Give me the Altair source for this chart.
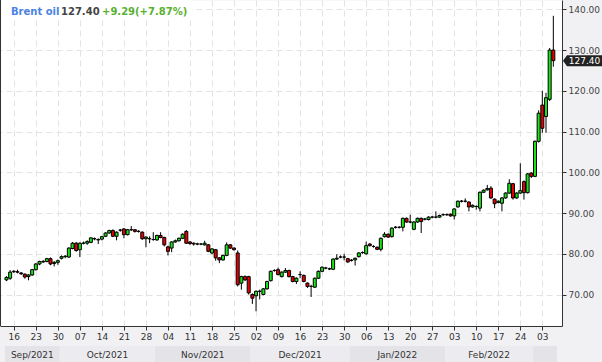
import altair as alt
import pandas as pd

# ---- data (daily bars, 6 bars per week, index 0 = 14 Sep 2021) ----
opens = [
    73.6, 74.0, 75.6, 75.6, 75.3, 75.0, 74.4, 74.8, 76.1, 77.5,
    78.1, 78.1, 78.8, 77.6, 77.9, 78.9, 79.3, 79.2, 81.3, 82.6,
    81.0, 82.6, 82.6, 82.8, 83.7, 83.5, 83.6, 84.3, 85.1, 85.7,
    84.3, 85.8, 86.1, 84.7, 85.9, 85.9, 85.5, 85.3, 83.7, 83.7,
    83.5, 83.4, 84.5, 84.0, 81.7, 81.4, 82.9, 83.2, 83.8, 85.5,
    82.9, 82.6, 82.4, 82.4, 82.2, 82.2, 80.2, 81.0, 79.0, 78.5,
    79.6, 82.2, 81.4, 80.2, 72.8, 74.4, 74.4, 70.0, 69.7, 70.8,
    70.0, 71.4, 73.4, 75.9, 76.1, 74.4, 75.5, 75.9, 74.4, 73.2,
    74.9, 74.7, 72.8, 72.0, 71.8, 74.0, 75.7, 76.5, 76.3, 76.2,
    78.7, 79.2, 79.2, 78.8, 78.4, 78.5, 79.3, 80.3, 80.0, 82.4,
    81.8, 81.6, 81.1, 84.2, 84.8, 84.2, 86.5, 86.5, 86.5, 88.7,
    87.8, 86.0, 87.8, 88.7, 88.5, 88.4, 89.0, 89.0, 89.0, 89.6,
    89.6, 89.7, 89.3, 91.5, 92.9, 92.9, 92.7, 91.5, 91.6, 91.2,
    95.1, 95.7, 96.1, 93.4, 92.6, 92.4, 93.7, 94.9, 97.2, 93.7,
    94.9, 97.7, 95.0, 99.8, 99.0, 107.6, 116.5, 113.7, 117.9, 130.0,
]
closes = [
    74.2, 75.5, 75.7, 75.5, 75.1, 74.3, 74.8, 76.1, 77.5, 78.1,
    78.0, 78.8, 77.5, 77.9, 78.3, 79.3, 79.4, 81.4, 82.6, 80.8,
    82.6, 82.6, 83.0, 83.9, 83.7, 83.4, 84.2, 85.1, 85.7, 84.3,
    85.3, 85.8, 84.7, 85.9, 85.9, 85.5, 85.5, 83.7, 84.1, 83.7,
    83.5, 84.5, 84.0, 82.2, 80.6, 82.9, 83.2, 83.8, 84.8, 82.6,
    82.5, 82.4, 82.4, 82.4, 82.6, 80.6, 81.2, 79.0, 78.5, 79.6,
    82.2, 81.4, 81.0, 72.4, 74.4, 73.6, 70.4, 69.1, 70.8, 70.8,
    71.4, 73.2, 75.7, 75.9, 74.9, 75.5, 75.9, 74.4, 73.2, 74.0,
    74.9, 73.2, 72.0, 72.0, 74.0, 75.7, 76.7, 76.5, 76.3, 78.7,
    78.9, 79.2, 79.2, 78.0, 78.4, 78.9, 80.2, 80.3, 82.0, 82.0,
    81.8, 81.1, 83.8, 84.8, 84.1, 86.3, 86.5, 86.5, 88.7, 87.8,
    87.8, 87.8, 88.7, 87.9, 88.5, 89.0, 89.0, 89.0, 89.4, 89.6,
    89.6, 89.3, 91.0, 92.9, 92.9, 92.9, 91.5, 91.9, 91.6, 95.1,
    95.6, 96.0, 93.7, 92.3, 92.9, 93.7, 94.9, 97.3, 93.7, 94.9,
    95.5, 95.0, 99.6, 99.0, 107.6, 114.5, 110.8, 118.3, 130.0, 127.4,
]
highs = [
    74.5, 76.0, 76.0, 76.1, 75.5, 75.2, 75.0, 76.3, 77.7, 78.3,
    78.5, 79.0, 79.1, 78.2, 78.6, 79.6, 79.7, 81.6, 82.9, 82.9,
    82.8, 83.0, 83.3, 84.1, 84.0, 83.8, 84.4, 85.3, 85.9, 86.0,
    85.5, 86.1, 86.3, 86.1, 86.8, 86.1, 85.8, 85.5, 84.3, 84.3,
    85.3, 84.7, 85.3, 84.2, 82.0, 83.1, 83.5, 84.0, 85.0, 85.8,
    83.1, 82.8, 82.7, 82.6, 83.2, 82.4, 81.4, 81.2, 79.2, 79.8,
    82.8, 82.4, 81.6, 80.8, 74.6, 74.7, 74.6, 70.3, 71.0, 71.2,
    71.6, 73.4, 75.9, 76.2, 76.6, 75.7, 76.5, 76.1, 74.6, 74.2,
    75.7, 74.9, 73.0, 72.4, 74.2, 75.9, 76.9, 76.8, 76.6, 78.9,
    79.9, 79.6, 80.0, 79.0, 78.7, 79.1, 80.4, 80.6, 83.0, 82.6,
    82.1, 81.8, 84.0, 85.3, 85.0, 86.5, 86.8, 86.8, 88.9, 88.9,
    89.6, 88.0, 88.9, 88.9, 88.8, 89.2, 89.3, 90.4, 89.6, 89.9,
    89.9, 89.9, 91.2, 93.1, 93.2, 93.6, 92.9, 92.1, 91.9, 95.3,
    95.8, 96.9, 96.6, 93.6, 93.1, 93.9, 95.1, 98.3, 97.4, 95.1,
    102.2, 98.0, 99.8, 100.0, 107.8, 115.2, 120.0, 119.5, 130.5, 138.4,
]
lows = [
    73.3, 73.6, 75.3, 75.2, 74.8, 73.9, 73.5, 74.6, 75.9, 77.2,
    77.8, 77.9, 77.2, 76.9, 77.3, 78.6, 78.9, 79.0, 81.1, 80.5,
    79.2, 82.3, 82.2, 82.6, 83.3, 82.4, 83.3, 84.1, 84.9, 84.1,
    83.3, 85.4, 83.8, 84.5, 85.6, 85.2, 85.2, 83.4, 81.6, 82.6,
    83.2, 83.2, 83.8, 81.8, 79.6, 80.4, 82.7, 83.0, 83.6, 82.4,
    82.2, 82.0, 82.1, 82.1, 82.0, 80.4, 79.9, 78.3, 77.7, 78.3,
    79.4, 81.2, 80.8, 72.0, 71.2, 73.3, 70.0, 67.7, 65.9, 68.8,
    69.8, 71.2, 73.2, 75.6, 74.7, 74.2, 75.3, 74.2, 73.0, 72.6,
    74.0, 73.0, 71.6, 69.4, 71.6, 73.8, 75.5, 76.2, 76.0, 76.0,
    78.5, 78.9, 78.4, 77.8, 78.1, 77.1, 79.1, 80.0, 79.8, 81.8,
    81.5, 80.9, 80.6, 84.0, 83.9, 84.0, 86.2, 86.2, 85.5, 87.6,
    87.5, 85.8, 87.6, 85.1, 88.2, 88.2, 88.7, 88.7, 88.8, 89.3,
    89.3, 89.1, 88.4, 91.3, 92.6, 92.6, 90.4, 91.3, 90.8, 90.4,
    94.9, 95.5, 93.5, 91.2, 92.4, 90.4, 93.5, 94.7, 93.3, 93.5,
    94.7, 93.3, 94.8, 98.6, 98.8, 107.3, 109.7, 109.7, 117.5, 125.9,
]

tick_labels = ["16", "23", "30", "07", "14", "21", "28", "04", "11", "18", "25",
               "02", "09", "16", "23", "30", "06", "13", "20", "27",
               "03", "10", "17", "24", "03"]
tick_index = [2 + 6 * k for k in range(len(tick_labels))]   # Thursdays

month_names = ["Sep/2021", "Oct/2021", "Nov/2021", "Dec/2021", "Jan/2022", "Feb/2022", ""]
month_start = [-0.4, 14.5, 40.5, 66.5, 93.5, 119.5, 143.5]
month_end = [14.5, 40.5, 66.5, 93.5, 119.5, 143.5, 150.0]

price_ticks = [70, 80, 90, 100, 110, 120, 130, 140]
last_price = 127.40
change = 9.29
change_pct = 7.87

# ---- tables ----
n = len(opens)
df = pd.DataFrame({"i": list(range(n)), "open": opens, "close": closes,
                   "high": highs, "low": lows})
df["dir"] = ["up" if c >= o else "down" for o, c in zip(opens, closes)]

bands = pd.DataFrame({"name": month_names, "start": month_start, "end": month_end,
                      "parity": [k % 2 for k in range(len(month_names))]})
bands["mid"] = (bands["start"] + bands["end"]) / 2

tag = pd.DataFrame({"price": [last_price], "label": [f"{last_price:.2f}"]})
one = pd.DataFrame({"k": [0]})

FONT = "DejaVu Sans"
xscale = alt.Scale(domain=[-0.4, 150.0], nice=False, zero=False)
yscale = alt.Scale(domain=[62.28, 142.28], nice=False, zero=False)

label_array = "[" + ",".join(f"'{t}'" for t in tick_labels) + "]"
x_axis = alt.Axis(values=tick_index,
                  labelExpr=f"{label_array}[round((datum.value - 2) / 6)]",
                  grid=True, gridDash=[6, 4], gridColor="#e3e3e3",
                  domainColor="#333333", tickColor="#333333", tickSize=4,
                  labelFont=FONT, labelFontSize=9, labelColor="#333333",
                  labelPadding=2, labelFlush=False, labelOverlap=False,
                  labelAngle=0, title=None)
y_axis = alt.Axis(orient="right", values=price_ticks, format=".2f",
                  grid=True, gridDash=[6, 4], gridColor="#e3e3e3",
                  domainColor="#333333", tickColor="#333333", tickSize=4,
                  labelFont=FONT, labelFontSize=9, labelColor="#444444",
                  labelPadding=2, labelFlush=False, title=None)

# month bands under the axis
band_rects = alt.Chart(bands).mark_rect().encode(
    x=alt.X("start:Q", scale=xscale, axis=x_axis),
    x2="end:Q",
    y=alt.value(346), y2=alt.value(362),
    color=alt.Color("parity:N", scale=alt.Scale(domain=[0, 1], range=["#e3e3e8", "#ececf0"]),
                    legend=None),
)
band_text = alt.Chart(bands).mark_text(font=FONT, fontSize=9, color="#333333",
                                        baseline="middle", align="center").encode(
    x=alt.X("mid:Q", scale=xscale, axis=x_axis),
    y=alt.value(354.5),
    text="name:N",
)

legend_box = alt.Chart(one).mark_rect(color="white").encode(
    x=alt.value(1), x2=alt.value(192), y=alt.value(0), y2=alt.value(19))

wicks = alt.Chart(df).mark_rule(color="black", strokeWidth=1).encode(
    x=alt.X("i:Q", scale=xscale, axis=x_axis),
    y=alt.Y("low:Q", scale=yscale, axis=y_axis),
    y2="high:Q",
)
bodies = alt.Chart(df).mark_bar(orient="vertical", size=3, stroke="black",
                                strokeWidth=1, opacity=1).encode(
    x=alt.X("i:Q", scale=xscale, axis=x_axis),
    y=alt.Y("open:Q", scale=yscale, axis=y_axis),
    y2="close:Q",
    color=alt.Color("dir:N", scale=alt.Scale(domain=["up", "down"],
                                             range=["#19e619", "#e60000"]), legend=None),
)

left_border = alt.Chart(one).mark_rule(color="#333333", strokeWidth=1).encode(
    x=alt.value(0.5), y=alt.value(0), y2=alt.value(326))

t1 = alt.Chart(one).mark_text(text="Brent oil", font=FONT, fontSize=10, fontWeight="bold",
                              color="#4a82e4", align="left", baseline="alphabetic").encode(
    x=alt.value(11), y=alt.value(15))
t2 = alt.Chart(one).mark_text(text=f"{last_price:.2f}", font=FONT, fontSize=10,
                              fontWeight="bold", color="#444444", align="left",
                              baseline="alphabetic").encode(
    x=alt.value(61), y=alt.value(15))
t3 = alt.Chart(one).mark_text(text=f"+{change:.2f}(+{change_pct:.2f}%)", font=FONT,
                              fontSize=10, fontWeight="bold", color="#58b030",
                              align="left", baseline="alphabetic").encode(
    x=alt.value(102), y=alt.value(15))

tag_shape = "M -1 0 L -0.795 -0.282 L 1 -0.282 L 1 0.282 L -0.795 0.282 Z"
tag_box = alt.Chart(tag).mark_point(shape=tag_shape, filled=True, fill="#222222",
                                    size=1521, strokeWidth=0, opacity=1).encode(
    x=alt.value(582.5),
    y=alt.Y("price:Q", scale=yscale, axis=y_axis),
)
tag_text = alt.Chart(tag).mark_text(font=FONT, fontSize=9, color="white",
                                    align="center", baseline="middle").encode(
    x=alt.value(584.5),
    y=alt.Y("price:Q", scale=yscale, axis=y_axis),
    text="label:N",
)

chart = alt.layer(
    band_rects, band_text, legend_box, wicks, bodies, left_border,
    t1, t2, t3, tag_box, tag_text,
).resolve_scale(color="independent").properties(
    width=562, height=326,
    padding={"left": 0, "top": 0, "right": 40, "bottom": 36},
    autosize=alt.AutoSizeParams(type="none"),
    background="#f1f1f4",
).configure_view(stroke="transparent", fill="white")

chart.save("out.html", embed_options={"renderer": "svg", "actions": False})
